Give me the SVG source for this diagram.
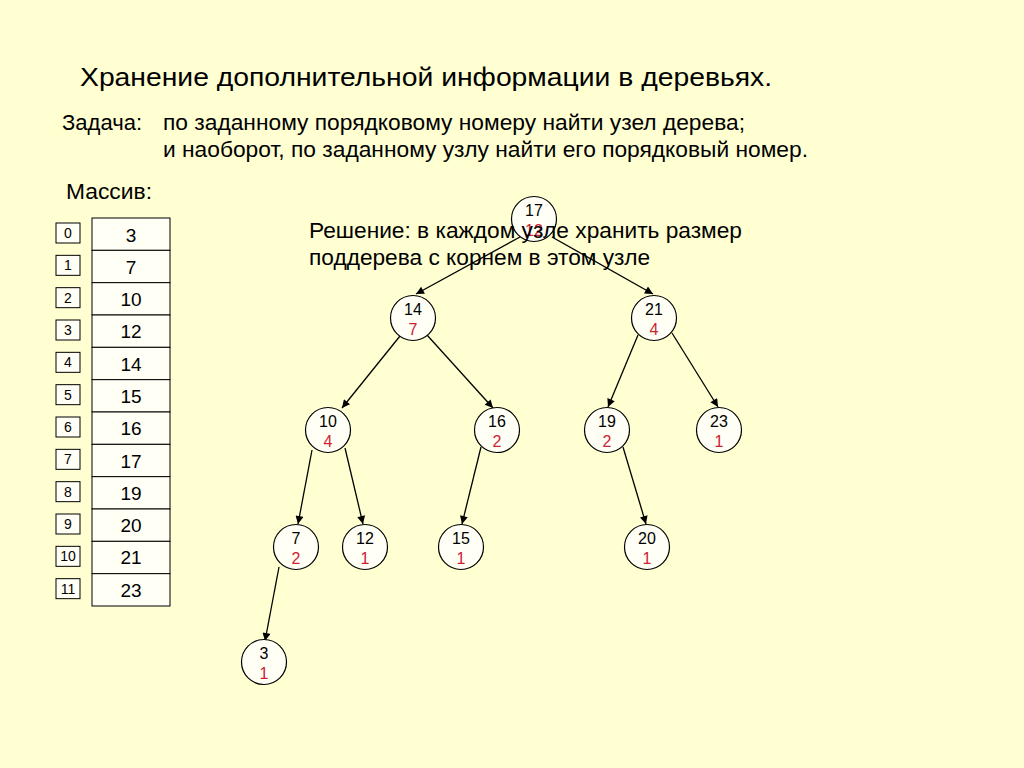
<svg xmlns="http://www.w3.org/2000/svg" width="1024" height="768" viewBox="0 0 1024 768">
<defs>
<style>
text{font-family:"Liberation Sans",Arial,sans-serif;fill:#000}
.title{font-size:26px}
.body{font-size:21.5px}
.arr{font-size:19px;text-anchor:middle}
.idx{font-size:14px;text-anchor:middle}
.nk{font-size:16px;text-anchor:middle}
.nr{font-size:16px;text-anchor:middle;fill:#CC2233}
.cell{fill:#FFFFF6;stroke:#000;stroke-width:1}
.node{fill:#FFFFF6;stroke:#000;stroke-width:1.2}
.edge{stroke:#000;stroke-width:1.3;fill:none;marker-end:url(#ah)}
</style>
<marker id="ah" viewBox="0 0 10 10" refX="10" refY="5" markerWidth="9" markerHeight="8" markerUnits="userSpaceOnUse" orient="auto">
<path d="M0,0 L10,5 L0,10 z" fill="#000"/>
</marker>
</defs>
<rect width="1024" height="768" fill="#FFFFD2"/>

<text class="title" x="80" y="86" textLength="692" lengthAdjust="spacingAndGlyphs">Хранение дополнительной информации в деревьях.</text>
<text class="body" x="62" y="130" textLength="80" lengthAdjust="spacingAndGlyphs">Задача:</text>
<text class="body" x="163" y="130" textLength="582" lengthAdjust="spacingAndGlyphs">по заданному порядковому номеру найти узел дерева;</text>
<text class="body" x="163" y="157" textLength="645" lengthAdjust="spacingAndGlyphs">и наоборот, по заданному узлу найти его порядковый номер.</text>
<text class="body" x="66" y="199" textLength="86" lengthAdjust="spacingAndGlyphs">Массив:</text>

<g id="array">
<rect class="cell" x="92" y="218" width="78" height="32.33"/>
<rect class="cell" x="92" y="250.33" width="78" height="32.33"/>
<rect class="cell" x="92" y="282.67" width="78" height="32.33"/>
<rect class="cell" x="92" y="315" width="78" height="32.33"/>
<rect class="cell" x="92" y="347.33" width="78" height="32.33"/>
<rect class="cell" x="92" y="379.67" width="78" height="32.33"/>
<rect class="cell" x="92" y="412" width="78" height="32.33"/>
<rect class="cell" x="92" y="444.33" width="78" height="32.33"/>
<rect class="cell" x="92" y="476.67" width="78" height="32.33"/>
<rect class="cell" x="92" y="509" width="78" height="32.33"/>
<rect class="cell" x="92" y="541.33" width="78" height="32.33"/>
<rect class="cell" x="92" y="573.67" width="78" height="32.33"/>
<text class="arr" x="131" y="242">3</text>
<text class="arr" x="131" y="274">7</text>
<text class="arr" x="131" y="306">10</text>
<text class="arr" x="131" y="338">12</text>
<text class="arr" x="131" y="371">14</text>
<text class="arr" x="131" y="403">15</text>
<text class="arr" x="131" y="435">16</text>
<text class="arr" x="131" y="468">17</text>
<text class="arr" x="131" y="500">19</text>
<text class="arr" x="131" y="532">20</text>
<text class="arr" x="131" y="564">21</text>
<text class="arr" x="131" y="597">23</text>
</g>
<g id="indices">
<rect class="cell" x="56" y="223" width="24" height="20"/>
<rect class="cell" x="56" y="255.33" width="24" height="20"/>
<rect class="cell" x="56" y="287.67" width="24" height="20"/>
<rect class="cell" x="56" y="320" width="24" height="20"/>
<rect class="cell" x="56" y="352.33" width="24" height="20"/>
<rect class="cell" x="56" y="384.67" width="24" height="20"/>
<rect class="cell" x="56" y="417" width="24" height="20"/>
<rect class="cell" x="56" y="449.33" width="24" height="20"/>
<rect class="cell" x="56" y="481.67" width="24" height="20"/>
<rect class="cell" x="56" y="514" width="24" height="20"/>
<rect class="cell" x="56" y="546.33" width="24" height="20"/>
<rect class="cell" x="56" y="578.67" width="24" height="20"/>
<text class="idx" x="68" y="238">0</text>
<text class="idx" x="68" y="270">1</text>
<text class="idx" x="68" y="303">2</text>
<text class="idx" x="68" y="335">3</text>
<text class="idx" x="68" y="367">4</text>
<text class="idx" x="68" y="400">5</text>
<text class="idx" x="68" y="432">6</text>
<text class="idx" x="68" y="464">7</text>
<text class="idx" x="68" y="497">8</text>
<text class="idx" x="68" y="529">9</text>
<text class="idx" x="68" y="561">10</text>
<text class="idx" x="68" y="594">11</text>
</g>

<g id="n17"><circle class="node" cx="534" cy="219" r="22.5"/><text class="nk" x="534" y="216">17</text><text class="nr" x="534" y="236">12</text></g>

<text class="body" x="309" y="238" textLength="433" lengthAdjust="spacingAndGlyphs">Решение: в каждом узле хранить размер</text>
<text class="body" x="309" y="265" textLength="341" lengthAdjust="spacingAndGlyphs">поддерева с корнем в этом узле</text>

<g id="connectors">
<line class="edge" x1="520" y1="237" x2="416" y2="294"/>
<line class="edge" x1="552" y1="237" x2="653" y2="294"/>
<line class="edge" x1="400" y1="336" x2="342" y2="408"/>
<line class="edge" x1="427" y1="335" x2="493" y2="408"/>
<line class="edge" x1="638" y1="335" x2="608" y2="407"/>
<line class="edge" x1="672" y1="333" x2="718" y2="407"/>
<line class="edge" x1="312" y1="450" x2="298" y2="524"/>
<line class="edge" x1="345" y1="448" x2="363" y2="524"/>
<line class="edge" x1="481" y1="447" x2="462" y2="524"/>
<line class="edge" x1="623" y1="447" x2="646" y2="524"/>
<line class="edge" x1="279" y1="567" x2="265" y2="641"/>
</g>

<g id="n14"><circle class="node" cx="413" cy="318" r="22.5"/><text class="nk" x="413" y="315">14</text><text class="nr" x="413" y="335">7</text></g>
<g id="n21"><circle class="node" cx="654" cy="318" r="22.5"/><text class="nk" x="654" y="315">21</text><text class="nr" x="654" y="335">4</text></g>
<g id="n10"><circle class="node" cx="328" cy="430" r="22.5"/><text class="nk" x="328" y="427">10</text><text class="nr" x="328" y="447">4</text></g>
<g id="n16"><circle class="node" cx="497" cy="430" r="22.5"/><text class="nk" x="497" y="427">16</text><text class="nr" x="497" y="447">2</text></g>
<g id="n19"><circle class="node" cx="607" cy="430" r="22.5"/><text class="nk" x="607" y="427">19</text><text class="nr" x="607" y="447">2</text></g>
<g id="n23"><circle class="node" cx="719" cy="430" r="22.5"/><text class="nk" x="719" y="427">23</text><text class="nr" x="719" y="447">1</text></g>
<g id="n7"><circle class="node" cx="296" cy="547" r="22.5"/><text class="nk" x="296" y="544">7</text><text class="nr" x="296" y="564">2</text></g>
<g id="n12"><circle class="node" cx="365" cy="547" r="22.5"/><text class="nk" x="365" y="544">12</text><text class="nr" x="365" y="564">1</text></g>
<g id="n15"><circle class="node" cx="461" cy="547" r="22.5"/><text class="nk" x="461" y="544">15</text><text class="nr" x="461" y="564">1</text></g>
<g id="n20"><circle class="node" cx="647" cy="547" r="22.5"/><text class="nk" x="647" y="544">20</text><text class="nr" x="647" y="564">1</text></g>
<g id="n3"><circle class="node" cx="264" cy="662" r="22.5"/><text class="nk" x="264" y="659">3</text><text class="nr" x="264" y="679">1</text></g>
</svg>
